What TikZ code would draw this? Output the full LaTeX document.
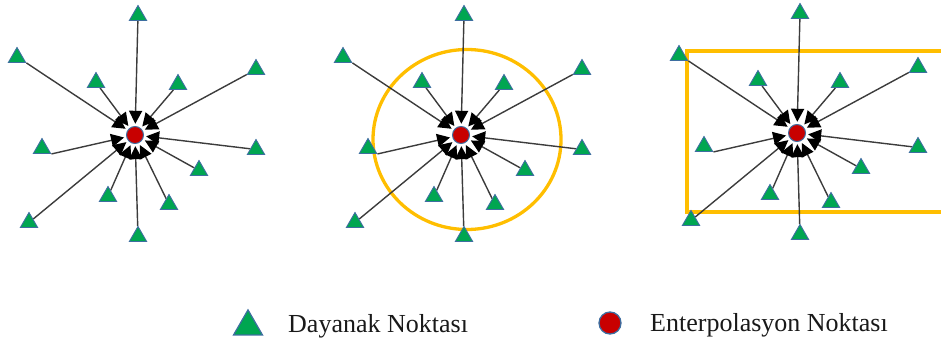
\documentclass[tikz,border=0pt]{standalone}
\usepackage{fontspec}
\setmainfont{Liberation Serif}
\usetikzlibrary{arrows.meta,shapes.geometric}
\definecolor{tgreen}{RGB}{0,166,81}
\definecolor{tblue}{RGB}{62,110,160}
\definecolor{ired}{RGB}{200,0,0}
\definecolor{goldline}{RGB}{255,190,0}
\definecolor{lgray}{RGB}{60,60,60}
\pgfdeclarelayer{back}
\pgfdeclarelayer{mid}
\pgfsetlayers{back,mid,main}
\tikzset{
 anchorpt/.style={regular polygon, regular polygon sides=3, inner sep=0pt, minimum size=20pt, fill=tgreen, draw=tblue, line width=0.9pt},
 hubnode/.style={circle, inner sep=0pt, minimum size=22pt},
 interp/.style={circle, inner sep=0pt, minimum size=17pt, fill=ired, draw=tblue, line width=1pt},
 conn/.style={draw=lgray, line width=1.4pt, -{Triangle[length=13pt,width=13pt,color=black]}},
 goldframe/.style={draw=goldline, line width=3.3pt},
 legendtext/.style={font=\fontsize{26}{30}\selectfont, text=black!90, inner sep=0pt, anchor=base west},
}
\newcommand\starpanel{%
 \node[hubnode] (hub) at (135,135) {};
 \node[anchorpt] (t1) at (138,15.5) {};
 \node[anchorpt] (t2) at (17,57.5) {};
 \node[anchorpt] (t3) at (96,82.5) {};
 \node[anchorpt] (t4) at (178,84.5) {};
 \node[anchorpt] (t5) at (256,69.5) {};
 \node[anchorpt] (t6) at (42,148.5) {};
 \node[anchorpt] (t7) at (256,149.5) {};
 \node[anchorpt] (t8) at (199,170.5) {};
 \node[anchorpt] (t9) at (108,196.5) {};
 \node[anchorpt] (t10) at (169,204.5) {};
 \node[anchorpt] (t11) at (29,222.5) {};
 \node[anchorpt] (t12) at (138,236.5) {};
 \begin{pgfonlayer}{mid}
  \draw[conn] (t2.corner 3) -- (hub);
  \draw[conn] (t6.corner 3) -- (hub);
  \foreach \t in {t1,t3,t4,t5,t7,t8,t9,t10,t11,t12} \draw[conn] (\t) -- (hub);
 \end{pgfonlayer}
 \node[interp] (ip) at (hub.center) {};
}
\begin{document}
\begin{tikzpicture}[x=1pt,y=-1pt]
\useasboundingbox (0,0) rectangle (941,345);
\clip (0,0) rectangle (941,345);
\begin{scope}[name prefix=p1-]
 \starpanel
\end{scope}
\begin{scope}[shift={(326,0)}, name prefix=p2-]
 \starpanel
\end{scope}
\begin{scope}[shift={(662,-2)}, name prefix=p3-]
 \starpanel
\end{scope}
\begin{pgfonlayer}{back}
 \draw[goldframe] (467,139.5) ellipse [x radius=94, y radius=90];
 \draw[goldframe] (687,51) rectangle (960,212);
\end{pgfonlayer}
\node[anchorpt, minimum size=33.5pt, line width=1.2pt] (lt) at (248,326.6) {};
\node[legendtext] (ltx) at (288,332) {Dayanak Noktası};
\node[interp, minimum size=22pt, line width=1.3pt] (lc) at (610,323) {};
\node[legendtext] (lcx) at (650,331) {Enterpolasyon Noktası};
\end{tikzpicture}
\end{document}
